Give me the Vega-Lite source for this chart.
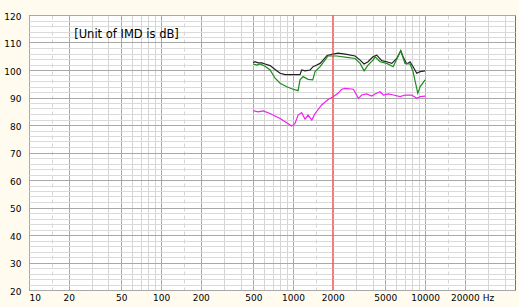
{
  "$schema": "https://vega.github.io/schema/vega-lite/v6.json",
  "width": 486,
  "height": 275,
  "autosize": {"type": "none"},
  "padding": {"left": 29, "top": 15, "right": 4, "bottom": 17},
  "background": "#fffbef",
  "config": {
    "view": {"stroke": "#707070", "fill": "white", "strokeWidth": 1},
    "axis": {"labelFont": "DejaVu Sans", "labelFontSize": 9, "labelColor": "#000000", "ticks": false, "domain": false, "title": null}
  },
  "datasets": {
    "curves": [
      {"s": "black", "f": 500, "db": 102.6},
      {"s": "black", "f": 515, "db": 103.0},
      {"s": "black", "f": 543, "db": 102.6},
      {"s": "black", "f": 580, "db": 102.6},
      {"s": "black", "f": 614, "db": 102.2},
      {"s": "black", "f": 670, "db": 101.6},
      {"s": "black", "f": 731, "db": 100.2},
      {"s": "black", "f": 798, "db": 98.8},
      {"s": "black", "f": 870, "db": 98.3},
      {"s": "black", "f": 982, "db": 98.3},
      {"s": "black", "f": 1129, "db": 98.3},
      {"s": "black", "f": 1163, "db": 100.0},
      {"s": "black", "f": 1233, "db": 99.7},
      {"s": "black", "f": 1346, "db": 100.0},
      {"s": "black", "f": 1418, "db": 101.2},
      {"s": "black", "f": 1513, "db": 101.8},
      {"s": "black", "f": 1603, "db": 102.4},
      {"s": "black", "f": 1688, "db": 103.6},
      {"s": "black", "f": 1810, "db": 105.3},
      {"s": "black", "f": 1965, "db": 105.7},
      {"s": "black", "f": 2193, "db": 106.1},
      {"s": "black", "f": 2553, "db": 105.7},
      {"s": "black", "f": 2951, "db": 105.1},
      {"s": "black", "f": 3221, "db": 103.6},
      {"s": "black", "f": 3452, "db": 102.2},
      {"s": "black", "f": 3700, "db": 103.0},
      {"s": "black", "f": 4035, "db": 104.8},
      {"s": "black", "f": 4305, "db": 105.4},
      {"s": "black", "f": 4697, "db": 103.4},
      {"s": "black", "f": 5128, "db": 103.0},
      {"s": "black", "f": 5597, "db": 102.4},
      {"s": "black", "f": 6108, "db": 104.2},
      {"s": "black", "f": 6547, "db": 107.0},
      {"s": "black", "f": 6813, "db": 104.8},
      {"s": "black", "f": 7265, "db": 102.2},
      {"s": "black", "f": 7696, "db": 103.0},
      {"s": "black", "f": 8110, "db": 101.2},
      {"s": "black", "f": 8650, "db": 98.8},
      {"s": "black", "f": 9165, "db": 99.4},
      {"s": "black", "f": 10000, "db": 99.7},
      {"s": "green", "f": 500, "db": 102.2},
      {"s": "green", "f": 531, "db": 101.8},
      {"s": "green", "f": 562, "db": 102.2},
      {"s": "green", "f": 614, "db": 101.4},
      {"s": "green", "f": 670, "db": 100.0},
      {"s": "green", "f": 731, "db": 97.0},
      {"s": "green", "f": 798, "db": 95.2},
      {"s": "green", "f": 896, "db": 93.9},
      {"s": "green", "f": 1000, "db": 93.0},
      {"s": "green", "f": 1092, "db": 92.5},
      {"s": "green", "f": 1129, "db": 96.4},
      {"s": "green", "f": 1191, "db": 97.6},
      {"s": "green", "f": 1300, "db": 96.6},
      {"s": "green", "f": 1410, "db": 96.4},
      {"s": "green", "f": 1468, "db": 99.4},
      {"s": "green", "f": 1603, "db": 101.2},
      {"s": "green", "f": 1746, "db": 103.6},
      {"s": "green", "f": 1841, "db": 105.1},
      {"s": "green", "f": 2143, "db": 105.1},
      {"s": "green", "f": 2553, "db": 104.6},
      {"s": "green", "f": 2951, "db": 104.2},
      {"s": "green", "f": 3221, "db": 102.4},
      {"s": "green", "f": 3452, "db": 99.7},
      {"s": "green", "f": 3700, "db": 101.8},
      {"s": "green", "f": 4035, "db": 103.6},
      {"s": "green", "f": 4178, "db": 104.8},
      {"s": "green", "f": 4560, "db": 103.0},
      {"s": "green", "f": 5128, "db": 102.4},
      {"s": "green", "f": 5728, "db": 101.2},
      {"s": "green", "f": 6547, "db": 107.0},
      {"s": "green", "f": 7046, "db": 102.4},
      {"s": "green", "f": 7696, "db": 102.2},
      {"s": "green", "f": 8110, "db": 99.4},
      {"s": "green", "f": 8810, "db": 91.5},
      {"s": "green", "f": 9165, "db": 93.9},
      {"s": "green", "f": 10000, "db": 96.4},
      {"s": "magenta", "f": 500, "db": 85.2},
      {"s": "magenta", "f": 543, "db": 84.8},
      {"s": "magenta", "f": 593, "db": 85.1},
      {"s": "magenta", "f": 670, "db": 84.2},
      {"s": "magenta", "f": 798, "db": 82.4},
      {"s": "magenta", "f": 977, "db": 79.6},
      {"s": "magenta", "f": 1035, "db": 80.6},
      {"s": "magenta", "f": 1092, "db": 83.6},
      {"s": "magenta", "f": 1163, "db": 84.5},
      {"s": "magenta", "f": 1233, "db": 82.1},
      {"s": "magenta", "f": 1300, "db": 83.6},
      {"s": "magenta", "f": 1387, "db": 81.8},
      {"s": "magenta", "f": 1468, "db": 84.2},
      {"s": "magenta", "f": 1648, "db": 87.3},
      {"s": "magenta", "f": 1841, "db": 89.3},
      {"s": "magenta", "f": 2009, "db": 90.3},
      {"s": "magenta", "f": 2193, "db": 91.5},
      {"s": "magenta", "f": 2338, "db": 93.0},
      {"s": "magenta", "f": 2477, "db": 93.3},
      {"s": "magenta", "f": 2866, "db": 93.0},
      {"s": "magenta", "f": 3126, "db": 89.7},
      {"s": "magenta", "f": 3315, "db": 90.9},
      {"s": "magenta", "f": 3612, "db": 91.3},
      {"s": "magenta", "f": 3942, "db": 90.5},
      {"s": "magenta", "f": 4178, "db": 91.3},
      {"s": "magenta", "f": 4560, "db": 92.1},
      {"s": "magenta", "f": 4832, "db": 90.9},
      {"s": "magenta", "f": 5272, "db": 91.3},
      {"s": "magenta", "f": 5754, "db": 90.9},
      {"s": "magenta", "f": 6468, "db": 90.3},
      {"s": "magenta", "f": 7046, "db": 90.9},
      {"s": "magenta", "f": 7926, "db": 90.9},
      {"s": "magenta", "f": 8650, "db": 89.7},
      {"s": "magenta", "f": 9165, "db": 90.3},
      {"s": "magenta", "f": 10000, "db": 90.5}
    ]
  },
  "layer": [
    {
      "data": {"name": "curves"},
      "mark": {"type": "line", "strokeWidth": 1.2, "clip": true},
      "encoding": {
        "x": {
          "field": "f", "type": "quantitative",
          "scale": {"type": "log", "domain": [10, 48000], "nice": false},
          "axis": {
            "values": [10, 15, 20, 30, 40, 50, 60, 70, 80, 90, 100, 150, 200, 300, 400, 500, 600, 700, 800, 900, 1000, 1500, 2000, 3000, 4000, 5000, 6000, 7000, 8000, 9000, 10000, 15000, 20000, 30000, 40000],
            "tickCount": 100,
            "labelExpr": "indexof([10,20,50,100,200,500,1000,2000,5000,10000,20000], datum.value) >= 0 ? format(datum.value, 'd') : (datum.value == 30000 ? 'Hz' : '')",
            "labelAlign": {"condition": {"test": "datum.value == 10", "value": "left"}, "value": "center"},
            "labelOverlap": false,
            "labelBound": false,
            "labelPadding": 3,
            "grid": true,
            "gridColor": {"condition": {"test": "indexof([10,20,50,100,200,500,1000,2000,5000,10000,20000], datum.value) >= 0", "value": "#a8a8a8"}, "value": "#d4d4d4"},
            "gridDash": {"condition": {"test": "indexof([15,150,1500,15000], datum.value) >= 0", "value": [4, 4]}, "value": []}
          }
        },
        "y": {
          "field": "db", "type": "quantitative",
          "scale": {"domain": [20, 120], "nice": false, "zero": false},
          "axis": {
            "values": [20, 22, 24, 26, 28, 30, 32, 34, 36, 38, 40, 42, 44, 46, 48, 50, 52, 54, 56, 58, 60, 62, 64, 66, 68, 70, 72, 74, 76, 78, 80, 82, 84, 86, 88, 90, 92, 94, 96, 98, 100, 102, 104, 106, 108, 110, 112, 114, 116, 118, 120],
            "tickCount": 100,
            "labelExpr": "datum.value % 10 == 0 ? format(datum.value, 'd') : ''",
            "labelOverlap": false,
            "labelBound": false,
            "labelPadding": 8,
            "labelOffset": 1,
            "grid": true,
            "gridColor": {"condition": {"test": "datum.value % 10 == 0", "value": "#a8a8a8"}, "value": "#dadada"}
          }
        },
        "color": {
          "field": "s", "type": "nominal",
          "scale": {"domain": ["black", "green", "magenta"], "range": ["#222222", "#1c8c1c", "#f020f0"]},
          "legend": null
        }
      }
    },
    {
      "data": {"values": [{"f": 2000}]},
      "mark": {"type": "rule", "color": "#f05050", "strokeWidth": 1},
      "encoding": {"x": {"field": "f", "type": "quantitative"}}
    },
    {
      "data": {"values": [{"label": "[Unit of IMD is dB]", "f": 22, "db": 112.7}]},
      "mark": {"type": "text", "align": "left", "baseline": "middle", "font": "DejaVu Sans", "fontSize": 11.5, "color": "#000000"},
      "encoding": {
        "x": {"field": "f", "type": "quantitative"},
        "y": {"field": "db", "type": "quantitative"},
        "text": {"field": "label"}
      }
    }
  ]
}
